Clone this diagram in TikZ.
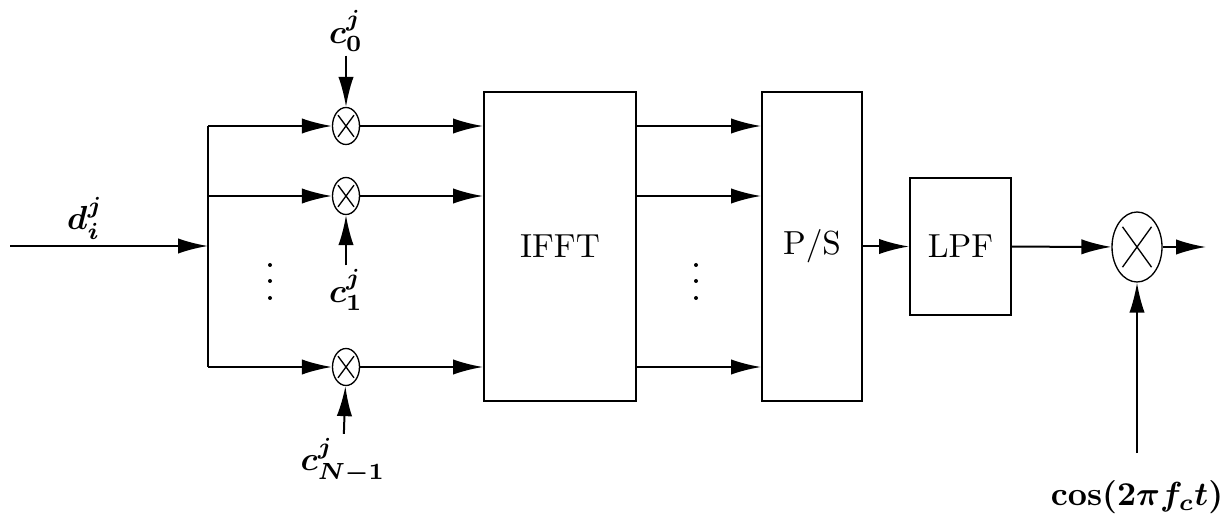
\documentclass[tikz,border=0pt]{standalone}
\usetikzlibrary{arrows.meta,shapes.geometric,calc}

\tikzstyle{block}=[rectangle,
                   draw=black,
                   line width=0.6pt,
                   text centered]
\tikzstyle{mult}=[ellipse, draw=black, line width=0.4pt, inner sep=0pt]
\tikzstyle{coef}=[font=\boldmath, inner sep=1pt]
\tikzstyle{signal}=[line width=0.6pt, -{Latex[length=9pt,width=4.6pt]}]

\begin{document}
\begin{tikzpicture}[x=0.3pt, y=-0.3pt]
    \useasboundingbox (0,0) rectangle (1224,517);

    \coordinate (input)   at (10,246);
    \coordinate (split)   at (208,246);
    \coordinate (bus_top) at (208,126);
    \coordinate (bus_mid) at (208,196);
    \coordinate (bus_bot) at (208,367);

    \node at (346, 126) (mult_0) [mult, minimum width=8.1pt, minimum height=11.1pt] {};
    \node at (346, 196) (mult_1) [mult, minimum width=8.1pt, minimum height=11.1pt] {};
    \node at (346, 367) (mult_N) [mult, minimum width=8.1pt, minimum height=11.1pt] {};
    \node at (560, 246.5) (ifft)  [block, minimum width=45.6pt, minimum height=92.7pt] {IFFT};
    \node at (812, 246.5) (ps)    [block, minimum width=30pt, minimum height=92.7pt]   {P/S};
    \node at (960.5, 246.5) (lpf) [block, minimum width=30.3pt, minimum height=41.1pt] {LPF};
    \node at (1137, 247) (mixer)  [mult, minimum width=15pt, minimum height=21pt]      {};
    \coordinate (output) at (1206,247);

    % labels
    \node at (85, 218)   (data)    [coef] {$d_i^j$};
    \node at (346, 31)   (coef_0)  [coef] {$c_0^j$};
    \node at (346, 290)  (coef_1)  [coef] {$c_1^j$};
    \node at (343, 461)  (coef_N)  [coef] {$c_{N-1}^j$};
    \node at (1137, 497) (carrier) [coef] {$\cos(2\pi f_c t)$};
    \coordinate (carrier_src) at (1137,453);

    % dots between the branches
    \foreach \x in {270, 696}
        \foreach \y in {265, 281, 298}
            \fill (\x,\y) circle (0.6pt);

    % crosses in the multipliers
    \foreach \m in {mult_0, mult_1, mult_N, mixer}
        \draw[line width=0.4pt] ($(\m.center)!0.8!(\m.north east)$) -- ($(\m.center)!0.8!(\m.south west)$)
                                ($(\m.center)!0.8!(\m.north west)$) -- ($(\m.center)!0.8!(\m.south east)$);

    \draw[signal] (input)   -- (split);
    \draw[line width=0.6pt] (bus_top) -- (bus_bot);
    \draw[signal] (bus_top) -- (mult_0);
    \draw[signal] (bus_mid) -- (mult_1);
    \draw[signal] (bus_bot) -- (mult_N);
    \draw[signal] (coef_0)  -- (mult_0);
    \draw[signal] (coef_1)  -- (mult_1);
    \draw[signal] (coef_N)  -- (mult_N);
    \draw[signal] (mult_0)  -- (ifft.west |- mult_0);
    \draw[signal] (mult_1)  -- (ifft.west |- mult_1);
    \draw[signal] (mult_N)  -- (ifft.west |- mult_N);
    \draw[signal] (ifft.east |- mult_0) -- (ps.west |- mult_0);
    \draw[signal] (ifft.east |- mult_1) -- (ps.west |- mult_1);
    \draw[signal] (ifft.east |- mult_N) -- (ps.west |- mult_N);
    \draw[signal] (ps)      -- (lpf);
    \draw[signal] (lpf)     -- (mixer);
    \draw[signal] (mixer)   -- (output);
    \draw[signal] (carrier_src) -- (mixer);
\end{tikzpicture}
\end{document}
